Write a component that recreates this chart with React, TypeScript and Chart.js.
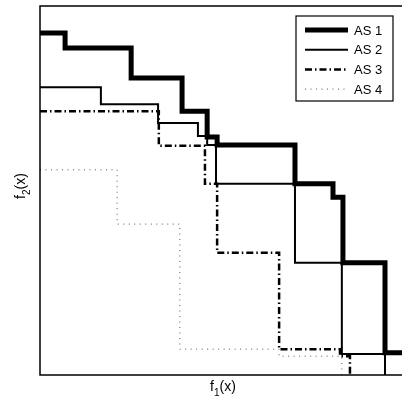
import React, { useEffect, useRef } from "react";
import { Chart, registerables } from "chart.js";

Chart.register(...registerables);

// Series labels
const seriesNames = ["AS 1", "AS 2", "AS 3", "AS 4"];

// Step vertices (x = f1 start of step, y = f2 value held until next x), axis 0..100
const as1X = [0, 6.8, 24.7, 38.5, 45.3, 48.0, 69.1, 79.4, 82.1, 93.5, 101];
const as1Y = [92.7, 88.6, 80.5, 71.5, 64.5, 62.3, 51.8, 48.2, 30.4, 6.0, 6.0];

const as2X = [0, 16.5, 32.0, 42.8, 45.3, 47.7, 69.1, 81.8, 93.5];
const as2Y = [78.0, 73.4, 68.3, 64.8, 62.3, 51.8, 30.4, 5.7, -1];

const as3X = [0, 32.2, 44.7, 48.0, 64.8, 81.3, 84.0];
const as3Y = [71.5, 62.1, 51.8, 33.1, 7.0, 5.1, -1];

const as4X = [0, 20.9, 37.9, 64.8, 81.8];
const as4Y = [55.6, 40.9, 7.0, 5.1, -1];

const xTitle = ["f", "1", "(x)"];
const yTitle = ["f", "2", "(x)"];

function pts(xs: number[], ys: number[]) {
  return xs.map((x, i) => ({ x, y: ys[i] }));
}

const styles = [
  { width: 5, dash: [] as number[], color: "#000" },
  { width: 2, dash: [] as number[], color: "#000" },
  { width: 2.5, dash: [7, 3, 1.5, 3], color: "#000" },
  { width: 1, dash: [1, 4.5], color: "#555" },
];

const overlay = {
  id: "overlay",
  afterDraw(chart: any) {
    const ctx = chart.ctx as CanvasRenderingContext2D;
    const a = chart.chartArea;
    ctx.save();
    // frame
    ctx.strokeStyle = "#000";
    ctx.lineWidth = 1.5;
    ctx.setLineDash([]);
    ctx.strokeRect(a.left, a.top, a.right - a.left, a.bottom - a.top);

    // legend box
    const lx = 296, ly = 16, lw = 97, lh = 85;
    ctx.fillStyle = "#fff";
    ctx.fillRect(lx, ly, lw, lh);
    ctx.lineWidth = 1.2;
    ctx.strokeStyle = "#000";
    ctx.strokeRect(lx, ly, lw, lh);
    ctx.font = "13px 'Liberation Sans', Arial, sans-serif";
    ctx.textBaseline = "middle";
    ctx.textAlign = "left";
    seriesNames.forEach((name, i) => {
      const y = 30 + i * 19.7;
      const s = styles[i];
      ctx.beginPath();
      ctx.strokeStyle = s.color;
      ctx.lineWidth = s.width;
      ctx.setLineDash(s.dash);
      ctx.moveTo(305, y);
      ctx.lineTo(348, y);
      ctx.stroke();
      ctx.setLineDash([]);
      ctx.fillStyle = "#000";
      ctx.fillText(name, 354, y + 1);
    });

    // axis titles with subscripts
    const drawSub = (parts: string[], cx: number, cy: number, rot: number) => {
      ctx.save();
      ctx.translate(cx, cy);
      ctx.rotate(rot);
      ctx.fillStyle = "#000";
      ctx.textBaseline = "alphabetic";
      ctx.textAlign = "left";
      const big = "14px 'Liberation Sans', Arial, sans-serif";
      const small = "10px 'Liberation Sans', Arial, sans-serif";
      ctx.font = big;
      const w1 = ctx.measureText(parts[0]).width;
      const w3 = ctx.measureText(parts[2]).width;
      ctx.font = small;
      const w2 = ctx.measureText(parts[1]).width;
      const total = w1 + w2 + w3;
      let x = -total / 2;
      ctx.font = big;
      ctx.fillText(parts[0], x, 0);
      x += w1;
      ctx.font = small;
      ctx.fillText(parts[1], x, 5);
      x += w2;
      ctx.font = big;
      ctx.fillText(parts[2], x, 0);
      ctx.restore();
    };
    drawSub(xTitle, 223, 391, 0);
    drawSub(yTitle, 25, 186, -Math.PI / 2);
    ctx.restore();
  },
};

export default function App() {
  const ref = useRef<HTMLCanvasElement | null>(null);
  useEffect(() => {
    if (!ref.current) return;
    const series = [pts(as1X, as1Y), pts(as2X, as2Y), pts(as3X, as3Y), pts(as4X, as4Y)];
    const chart = new Chart(ref.current, {
      type: "line",
      data: {
        datasets: series.map((d, i) => ({
          label: seriesNames[i],
          data: d,
          stepped: true,
          borderColor: styles[i].color,
          borderWidth: styles[i].width,
          borderDash: styles[i].dash,
          pointRadius: 0,
          fill: false,
          tension: 0,
        })),
      },
      options: {
        responsive: false,
        animation: false,
        layout: { padding: { left: 40, top: 6, right: 11, bottom: 25 } },
        plugins: { legend: { display: false }, tooltip: { enabled: false } },
        scales: {
          x: { type: "linear", min: 0, max: 100, display: false },
          y: { type: "linear", min: 0, max: 100, display: false },
        },
      },
      plugins: [overlay],
    });
    return () => chart.destroy();
  }, []);
  return (
    <div style={{ position: "absolute", left: 0, top: 0, width: 402, height: 400, overflow: "hidden", background: "#fff" }}>
      <canvas ref={ref} width={420} height={400} style={{ display: "block" }} />
    </div>
  );
}
